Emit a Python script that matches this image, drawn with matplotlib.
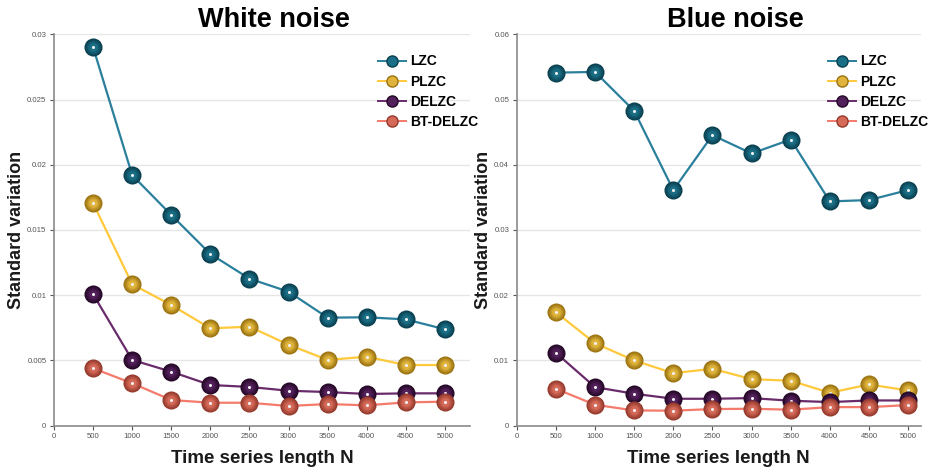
import matplotlib
matplotlib.use("Agg")
import matplotlib.pyplot as plt
from matplotlib.lines import Line2D
from matplotlib.colors import to_rgb

plt.rcParams["font.family"] = ["Liberation Sans", "DejaVu Sans"]

# Data
lengths = [500, 1000, 1500, 2000, 2500, 3000, 3500, 4000, 4500, 5000]
methods = ["LZC", "PLZC", "DELZC", "BT-DELZC"]

white_lzc = [0.0290, 0.0192, 0.01615, 0.01316, 0.01127, 0.01027, 0.00828, 0.00831, 0.00815, 0.00739]
white_plzc = [0.01705, 0.01084, 0.00925, 0.00746, 0.00759, 0.00621, 0.00504, 0.00529, 0.00465, 0.00465]
white_delzc = [0.01007, 0.00504, 0.00414, 0.00312, 0.00297, 0.00268, 0.00258, 0.00243, 0.00248, 0.00248]
white_bt = [0.0044, 0.00325, 0.00197, 0.00176, 0.00176, 0.00151, 0.00166, 0.00156, 0.00179, 0.00184]

blue_lzc = [0.05412, 0.05423, 0.04826, 0.03612, 0.04454, 0.04173, 0.04387, 0.03438, 0.03459, 0.03612]
blue_plzc = [0.01739, 0.01264, 0.0100, 0.00805, 0.00872, 0.00714, 0.00689, 0.00505, 0.00632, 0.0054]
blue_delzc = [0.01117, 0.00591, 0.0049, 0.00413, 0.00413, 0.00423, 0.00383, 0.00362, 0.00387, 0.00387]
blue_bt = [0.00566, 0.00321, 0.00234, 0.0023, 0.00255, 0.0026, 0.00245, 0.00285, 0.00285, 0.00316]

line_colors = ["#2a7f9c", "#ffc93c", "#6a2b6b", "#f47a6c"]
ball_dark = ["#0a3f4f", "#9a7210", "#240826", "#94392c"]
ball_mid = ["#1a6f86", "#e0b43c", "#52205a", "#d66a58"]


def blend(c1, c2, t):
    a, b = to_rgb(c1), to_rgb(c2)
    return tuple(a[k] + (b[k] - a[k]) * t for k in range(3))


def draw_series(ax, x, y, i, zorder):
    ax.plot(x, y, color=line_colors[i], lw=1.6, zorder=zorder)
    # shaded "sphere" markers: concentric layers from dark edge to lighter core
    sizes = [13, 11.5, 10, 8.5, 7, 5.5]
    for k, s in enumerate(sizes):
        c = blend(ball_dark[i], ball_mid[i], k / (len(sizes) - 1))
        ax.plot(x, y, ls="none", marker="o", ms=s, mfc=c, mec="none",
                zorder=zorder + 0.1 + 0.01 * k)
    ax.plot(x, y, ls="none", marker="o", ms=2.2, mfc="#f2f2f2",
            mec="none", zorder=zorder + 0.3)


def style_axes(ax, ymax, yticks, xmax, ylab_x):
    ax.set_xlim(0, xmax)
    ax.set_ylim(0, ymax)
    ax.set_xticks(range(0, 5001, 500))
    ax.set_yticks(yticks)
    ax.set_yticklabels([("%g" % t) for t in yticks])
    ax.tick_params(axis="both", labelsize=5.6, colors="#555555", length=3,
                   width=0.8, pad=2.5)
    ax.grid(axis="y", color="#e6e6e6", lw=1)
    ax.set_axisbelow(True)
    for s in ["top", "right"]:
        ax.spines[s].set_visible(False)
    for s in ["left", "bottom"]:
        ax.spines[s].set_color("#8a8a8a")
        ax.spines[s].set_linewidth(1.2)
    ax.set_xlabel("Time series length N", fontsize=13.5, fontweight="bold",
                  color="#1a1a1a", labelpad=7)
    ax.set_ylabel("Standard variation", fontsize=13, fontweight="bold",
                  color="#1a1a1a", va="center")
    ax.yaxis.set_label_coords(ylab_x, 0.5)


def add_legend(ax):
    handles = []
    for i in range(4):
        handles.append(Line2D([0], [0], color=line_colors[i], lw=1.4,
                              marker="o", ms=8, mfc=ball_mid[i],
                              mec=ball_dark[i]))
    ax.legend(handles, methods, loc="upper right", bbox_to_anchor=(1.04, 0.97),
              frameon=False, prop={"weight": "bold", "size": 10},
              handlelength=2.0, handletextpad=0.3, labelspacing=0.45,
              borderaxespad=0.2)


def main():
    fig = plt.figure(figsize=(9.43, 4.73), dpi=100)
    ax1 = fig.add_axes([0.0573, 0.1, 0.4410, 0.8275])
    ax2 = fig.add_axes([0.548, 0.1, 0.4283, 0.8275])

    white = [white_lzc, white_plzc, white_delzc, white_bt]
    blue = [blue_lzc, blue_plzc, blue_delzc, blue_bt]
    for i in range(4):
        draw_series(ax1, lengths, white[i], i, 3 + i)
        draw_series(ax2, lengths, blue[i], i, 3 + i)

    style_axes(ax1, 0.03, [0, 0.005, 0.01, 0.015, 0.02, 0.025, 0.03], 5320,
               -0.090)
    style_axes(ax2, 0.06, [0, 0.01, 0.02, 0.03, 0.04, 0.05, 0.06], 5160,
               -0.083)
    add_legend(ax1)
    add_legend(ax2)

    fig.text(0.291, 0.957, "White noise", ha="center", va="center",
             fontsize=19.5, fontweight="bold")
    fig.text(0.780, 0.957, "Blue noise", ha="center", va="center",
             fontsize=19.5, fontweight="bold")

    fig.savefig("out.png", dpi=100, facecolor="white")


if __name__ == "__main__":
    main()
